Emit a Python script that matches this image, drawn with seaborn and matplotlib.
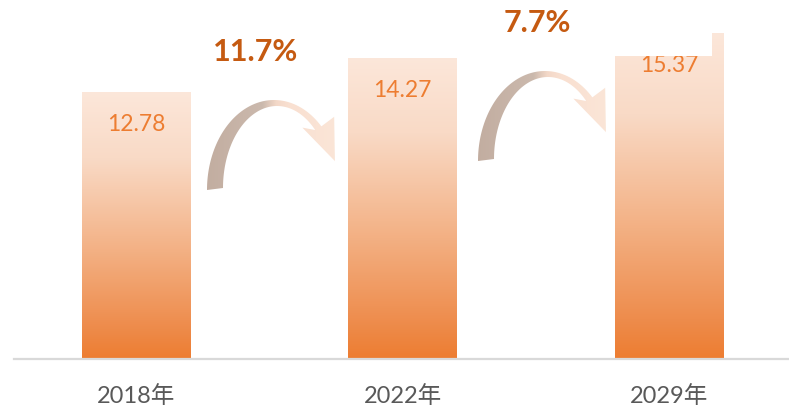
import numpy as np
import matplotlib
matplotlib.use("Agg")
import matplotlib.pyplot as plt
import seaborn as sns
import pandas as pd
from matplotlib.patches import Polygon, Rectangle
from matplotlib.colors import LinearSegmentedColormap

# ---- data ----
years = ["2018年", "2022年", "2029年"]
values = [12.78, 14.27, 15.37]
growth_labels = ["11.7%", "7.7%"]

sns.set_theme(style="white")
plt.rcParams["font.family"] = ["Lato", "Noto Sans CJK SC", "DejaVu Sans"]

W, H = 789, 419
fig = plt.figure(figsize=(W / 100, H / 100), dpi=100)
fig.patch.set_facecolor("white")

ax = fig.add_axes([14 / W, (H - 359) / H, (W - 14) / W, 359 / H])
df = pd.DataFrame({"year": years, "value": values})
sns.barplot(data=df, x="year", y="value", ax=ax, width=0.407,
            color="#ed7d31", saturation=1, errorbar=None)

XLIM = (-0.458, 2.45)
YLIM = (1.0, 1.0 + 359 / 22.69)

bar_cmap = LinearSegmentedColormap.from_list(
    "bar", [(0.0, "#ed7d31"), (0.12, "#ee8c4c"), (0.40, "#f3b083"),
            (0.75, "#f9dac6"), (1.0, "#fce7da")])
grad_v = np.linspace(0, 1, 256).reshape(-1, 1)
for p, v in zip(ax.patches, values):
    x0, w = p.get_x(), p.get_width()
    h = p.get_height()
    ybot = max(p.get_y(), YLIM[0])
    im = ax.imshow(grad_v, extent=[x0, x0 + w, ybot, h], origin="lower",
                   cmap=bar_cmap, aspect="auto", zorder=p.get_zorder())
    im.set_clip_path(p)
    p.set_facecolor("none")
    p.set_edgecolor("none")
    ax.annotate(f"{v:.2f}", (x0 + w / 2, h), xytext=(0, -33),
                textcoords="offset pixels", ha="center", va="center",
                color="#ed7d31", fontsize=16.5, zorder=5)

ax.set_xlim(*XLIM)
ax.set_ylim(*YLIM)
ax.set_yticks([])
ax.set_xlabel("")
ax.set_ylabel("")
for s in ["left", "right", "top"]:
    ax.spines[s].set_visible(False)
ax.spines["bottom"].set_color("#d9d9d9")
ax.spines["bottom"].set_linewidth(1.6)
ax.tick_params(axis="x", length=0, pad=19, labelsize=17, labelcolor="#595959")
ax.set_facecolor("none")

# ---- overlay for decorations ----
ov = fig.add_axes([0, 0, 1, 1])
ov.axis("off")
ov.patch.set_alpha(0)

# white text-box remnant covering top of last bar
ov.add_patch(Rectangle((609, 15), 103, 41, facecolor="white",
                       edgecolor="none", zorder=1))

arrow_cmap = LinearSegmentedColormap.from_list(
    "arr", [(0.0, "#c2ada0"), (0.42, "#cbb9ad"), (0.52, "#f3d8c8"),
            (0.62, "#f9e0d1"), (1.0, "#fbe6d8")])
grad_h = np.linspace(0, 1, 256).reshape(1, -1)


def draw_arrow(dx, dy):
    t_out = np.radians(np.linspace(180, 45, 80))
    t_in = np.radians(np.linspace(45, 180, 80))
    cxo, cyo, rxo, ryo = 274 + dx, 190 + dy, 67, 90
    cxi, cyi, rxi, ryi = 277 + dx, 188 + dy, 54, 82
    outer = np.column_stack([cxo + rxo * np.cos(t_out), cyo - ryo * np.sin(t_out)])
    inner = np.column_stack([cxi + rxi * np.cos(t_in), cyi - ryi * np.sin(t_in)])
    O = outer[-1]
    I = inner[0]
    n = np.array([0.80, -0.60])
    d = np.array([0.45, 0.89])
    M = (O + I) / 2
    wing_out = O + n * 16
    wing_in = I - n * 11 + np.array([-4, -9])
    tip = M + d * 37
    pts = np.vstack([outer, [wing_out, tip, wing_in], inner])
    poly = Polygon(pts, closed=True, facecolor="none", edgecolor="none", zorder=3)
    ov.add_patch(poly)
    im = ov.imshow(grad_h, extent=[205 + dx, 342 + dx, 200 + dy, 90 + dy],
                   cmap=arrow_cmap, aspect="auto", zorder=3)
    im.set_clip_path(poly)


draw_arrow(0, 0)
draw_arrow(271, -29)

ov.text(256, 52, growth_labels[0], ha="center", va="center", fontsize=22,
        fontweight="bold", color="#c55a11", zorder=6)
ov.text(537, 23, growth_labels[1], ha="center", va="center", fontsize=22,
        fontweight="bold", color="#c55a11", zorder=6)

ov.set_xlim(0, W)
ov.set_ylim(H, 0)

fig.savefig("out.png", dpi=100, facecolor="white")
